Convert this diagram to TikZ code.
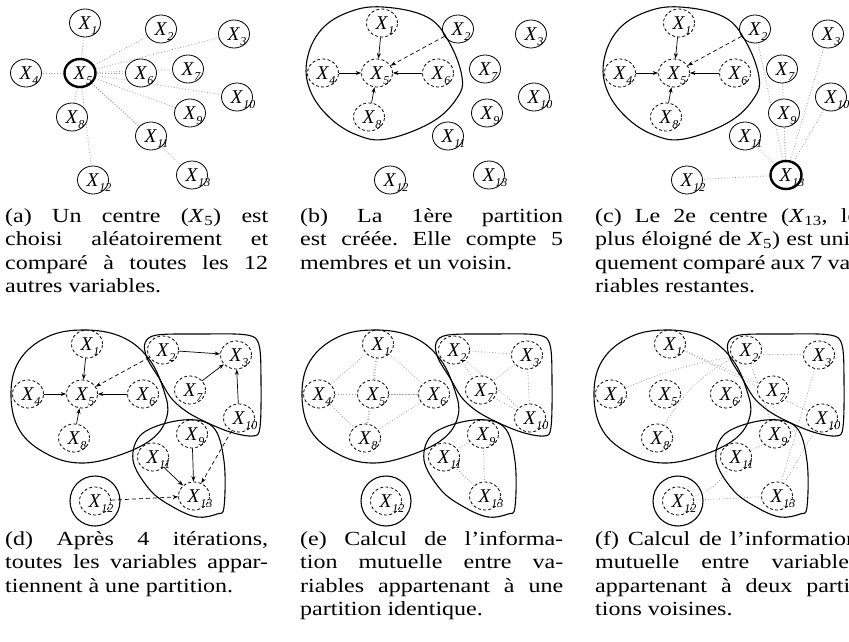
\documentclass[tikz,border=0pt]{standalone}
\usepackage{fontspec}
\setmainfont{Liberation Serif}
\newfontfamily\capfont[FakeStretch=1.2]{Liberation Serif}
\usetikzlibrary{shapes.geometric,arrows.meta,backgrounds}
\frenchspacing
\newcommand\xl[1]{\textit{X}\rlap{\smash{\raisebox{-5.5pt}{\fontsize{12}{12}\selectfont\itshape #1}}}}
\newcommand\xsub[1]{\textit{X}\textsubscript{#1}}
\tikzset{
  v1/.style={},v2/.style={},v3/.style={},v4/.style={},v5/.style={},v6/.style={},v7/.style={},
  v8/.style={},v9/.style={},v10/.style={},v11/.style={},v12/.style={},v13/.style={},
  vnode/.style={ellipse, draw, fill=white, minimum width=31pt, minimum height=28pt,
    inner sep=0pt, line width=0.8pt, font=\fontsize{19.5}{19.5}\selectfont},
  thk/.style={line width=2.4pt},
  dsh/.style={dash pattern=on 3pt off 2.2pt},
  dotl/.style={draw=gray!75, line width=0.8pt, dash pattern=on 0.8pt off 2pt},
  arr/.style={-{Stealth[length=5.5pt,width=4pt]}, line width=0.7pt},
  darr/.style={arr, dash pattern=on 4pt off 3pt},
  blob/.style={line width=1.1pt},
  captxt/.style={anchor=base west, inner sep=0pt, font=\capfont\fontsize{20}{23}\selectfont}
}
\newcommand\allnodes[1]{%
  \foreach \i/\x/\y in {1/85/23,2/161/29,3/234/34,4/26/73,5/80/73,6/141/73,7/188/69,8/72/117,9/190/113,10/237/97,11/151/136,12/93/180,13/192/175}{%
    \edef\vopts{vnode,v\i}%
    \expandafter\node\expandafter[\vopts] (#1\i) at (\x,\y) {\xl{\i}};%
  }}
\newcommand\blobUp{\draw[blob] plot[smooth cycle, tension=0.65] coordinates {(86,7) (130,17) (152,42) (165,77) (160,98) (135,122) (90,139) (60,135) (32,117) (13,90) (10,60) (24,30) (52,12)};}
\newcommand\blobLow{\draw[blob] plot[smooth cycle, tension=0.65] coordinates {(82,9) (120,16) (147,38) (162,70) (165,95) (150,118) (115,135) (78,142) (45,133) (18,110) (9,75) (17,40) (45,16)};}
\newcommand\blobB{\draw[blob] plot[smooth cycle, tension=0.55] coordinates {(155,14) (200,13) (245,14) (257,24) (259,60) (258,106) (251,115) (225,110) (190,94) (170,78) (157,57) (145,37) (143,22)};}
\newcommand\blobC{\draw[blob] plot[smooth cycle, tension=0.6] coordinates {(181,99) (211,106) (222,140) (222,186) (215,193) (195,196) (171,186) (148,169) (131,139) (141,112)};}
\begin{document}
\begin{tikzpicture}[x=1pt,y=-1pt]
\useasboundingbox (0,0) rectangle (849,642);

% ---------- (a)
\begin{scope}[v5/.style={thk}]
  \allnodes{a}
\end{scope}
\begin{pgfonlayer}{background}
  \foreach \j in {1,2,3,4,6,7,8,9,10,11,12,13} \draw[dotl] (a5) -- (a\j);
\end{pgfonlayer}

% ---------- (b)
\begin{scope}[shift={(297,0)}, v1/.style={dsh}, v4/.style={dsh}, v5/.style={dsh}, v6/.style={dsh}, v8/.style={dsh}]
  \allnodes{b}
  \blobUp
\end{scope}
\draw[arr] (b1) -- (b5);
\draw[arr] (b4) -- (b5);
\draw[arr] (b6) -- (b5);
\draw[arr] (b8) -- (b5);
\draw[darr] (b2) -- (b5);

% ---------- (c)
\begin{scope}[shift={(594,0)}, v1/.style={dsh}, v4/.style={dsh}, v5/.style={dsh}, v6/.style={dsh}, v8/.style={dsh}, v13/.style={thk}]
  \allnodes{c}
  \blobUp
\end{scope}
\draw[arr] (c1) -- (c5);
\draw[arr] (c4) -- (c5);
\draw[arr] (c6) -- (c5);
\draw[arr] (c8) -- (c5);
\draw[darr] (c2) -- (c5);
\begin{pgfonlayer}{background}
  \foreach \j in {2,3,7,9,10,11,12} \draw[dotl] (c13) -- (c\j);
\end{pgfonlayer}

% ---------- (d)
\begin{scope}[shift={(2,321)}, vnode/.append style={dsh}]
  \allnodes{d}
  \blobLow \blobB \blobC
  \draw[blob] (d12.center) circle [radius=25pt];
\end{scope}
\draw[arr] (d1) -- (d5);
\draw[arr] (d4) -- (d5);
\draw[arr] (d6) -- (d5);
\draw[arr] (d8) -- (d5);
\draw[darr] (d2) -- (d5);
\draw[arr] (d2) -- (d3);
\draw[arr] (d7) -- (d3);
\draw[arr] (d10) -- (d3);
\draw[arr] (d9) -- (d13);
\draw[arr] (d11) -- (d13);
\draw[darr] (d10) -- (d13);
\draw[darr] (d12) -- (d13);

% ---------- (e)
\begin{scope}[shift={(293,321)}, vnode/.append style={dsh}]
  \allnodes{e}
  \blobLow \blobB \blobC
  \draw[blob] (e12.center) circle [radius=25pt];
\end{scope}
\begin{pgfonlayer}{background}
  \foreach \p/\q in {1/4,1/5,1/6,1/8,4/5,4/6,4/8,5/6,5/8,6/8,2/3,2/7,2/10,3/7,3/10,7/10,9/11,9/13,11/13}
    \draw[dotl] (e\p) -- (e\q);
\end{pgfonlayer}

% ---------- (f)
\begin{scope}[shift={(585,321)}, vnode/.append style={dsh}]
  \allnodes{f}
  \blobLow \blobB \blobC
  \draw[blob] (f12.center) circle [radius=25pt];
\end{scope}
\begin{pgfonlayer}{background}
  \draw[dotl] (f4) to[bend left=12] (f3);
  \draw[dotl] (f8) to[bend left=15] (f2);
  \draw[dotl] (f1) -- (f7);
  \draw[dotl] (f1) -- (f10);
  \draw[dotl] (f2) -- (f9);
  \draw[dotl] (f7) -- (f9);
  \draw[dotl] (f3) -- (f13);
  \draw[dotl] (f10) -- (f11);
  \draw[dotl] (f10) -- (f13);
  \draw[dotl] (f12) -- (f13);
  \draw[dotl] (f12) to[bend right=20] (f11);
\end{pgfonlayer}

% ---------- captions
\node[captxt] (ca1) at (5,222) {\makebox[263pt][s]{(a) Un centre (\xsub{5}) est}};
\node[captxt] (ca2) at (5,245.5) {\makebox[263pt][s]{choisi aléatoirement et}};
\node[captxt] (ca3) at (5,269) {\makebox[263pt][s]{comparé à toutes les 12}};
\node[captxt] (ca4) at (5,292.5) {autres variables.};

\node[captxt] (cb1) at (300,222) {\makebox[263pt][s]{(b) La 1ère partition}};
\node[captxt] (cb2) at (300,245.5) {\makebox[263pt][s]{est créée. Elle compte 5}};
\node[captxt] (cb3) at (300,269) {membres et un voisin.};

\node[captxt] (cc1) at (595,222) {\makebox[263pt][s]{(c) Le 2e centre (\xsub{13}, le}};
\node[captxt] (cc2) at (595,245.5) {\makebox[263pt][s]{plus éloigné de \xsub{5}) est uni-}};
\node[captxt] (cc3) at (595,269) {\makebox[263pt][s]{quement comparé aux 7 va-}};
\node[captxt] (cc4) at (595,292.5) {riables restantes.};

\node[captxt] (cd1) at (5,545) {\makebox[263pt][s]{(d) Après 4 itérations,}};
\node[captxt] (cd2) at (5,568.5) {\makebox[263pt][s]{toutes les variables appar-}};
\node[captxt] (cd3) at (5,592) {tiennent à une partition.};

\node[captxt] (ce1) at (300,545) {\makebox[263pt][s]{(e) Calcul de l’informa-}};
\node[captxt] (ce2) at (300,568.5) {\makebox[263pt][s]{tion mutuelle entre va-}};
\node[captxt] (ce3) at (300,592) {\makebox[263pt][s]{riables appartenant à une}};
\node[captxt] (ce4) at (300,615.5) {partition identique.};

\node[captxt] (cf1) at (595,545) {\makebox[263pt][s]{(f) Calcul de l’information}};
\node[captxt] (cf2) at (595,568.5) {\makebox[263pt][s]{mutuelle entre variables}};
\node[captxt] (cf3) at (595,592) {\makebox[263pt][s]{appartenant à deux parti-}};
\node[captxt] (cf4) at (595,615.5) {tions voisines.};
\end{tikzpicture}
\end{document}
